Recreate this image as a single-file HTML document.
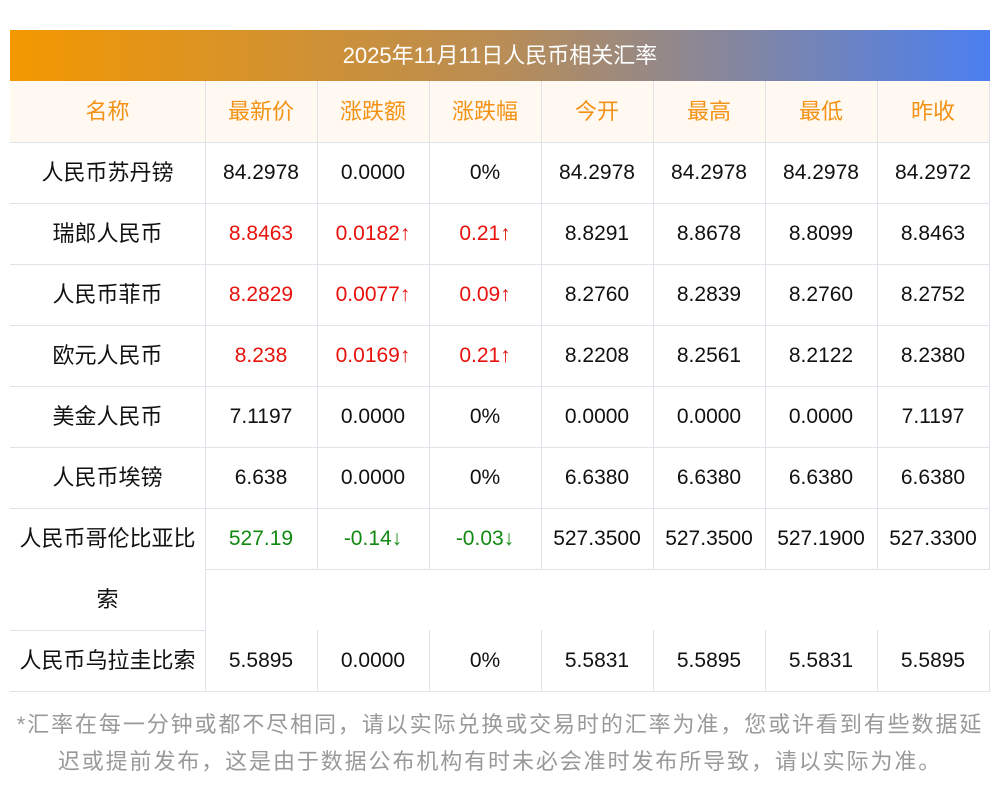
<!DOCTYPE html><html><head><meta charset="utf-8"><style>
body{margin:0;width:1000px;height:793px;background:#fff;position:relative;font-family:"Liberation Sans","Noto Sans CJK SC",sans-serif;overflow:hidden}
.a{position:absolute}
.t{position:absolute;text-align:center;font-size:21px;line-height:61px;color:#111;white-space:nowrap}
.n{font-size:22px}
.h{color:#f39214;font-size:22px}.r{color:#e8120c}.g{color:#118a11}
.v{position:absolute;width:1px;background:#e1e3ea}
.l{position:absolute;height:1px;background:#e1e3ea}
</style></head><body>
<div class="a" style="left:10px;top:30px;width:980px;height:51px;background:linear-gradient(90deg,#f39800,#b98d55 50%,#4b7ff0);color:#fff;font-size:22px;line-height:51px;text-align:center">2025年11月11日人民币相关汇率</div>
<div class="a" style="left:10px;top:81px;width:980px;height:61px;background:#fff9f2"></div>
<div id="g"></div>
<div class="a" style="left:0px;top:706px;width:1000px;text-align:center;font-size:22px;line-height:37px;color:#999;white-space:nowrap;letter-spacing:1.9px">*汇率在每一分钟或都不尽相同，请以实际兑换或交易时的汇率为准，您或许看到有些数据延<br>迟或提前发布，这是由于数据公布机构有时未必会准时发布所导致，请以实际为准。</div>
<script>
var X=[10,205,317,429,541,653,765,877,989];
var rows=[
["h","名称","最新价","涨跌额","涨跌幅","今开","最高","最低","昨收"],
["","人民币苏丹镑","84.2978","0.0000","0%","84.2978","84.2978","84.2978","84.2972"],
["r","瑞郎人民币","8.8463","0.0182↑","0.21↑","8.8291","8.8678","8.8099","8.8463"],
["r","人民币菲币","8.2829","0.0077↑","0.09↑","8.2760","8.2839","8.2760","8.2752"],
["r","欧元人民币","8.238","0.0169↑","0.21↑","8.2208","8.2561","8.2122","8.2380"],
["","美金人民币","7.1197","0.0000","0%","0.0000","0.0000","0.0000","7.1197"],
["","人民币埃镑","6.638","0.0000","0%","6.6380","6.6380","6.6380","6.6380"],
["g","人民币哥伦比亚比","527.19","-0.14↓","-0.03↓","527.3500","527.3500","527.1900","527.3300"],
["","人民币乌拉圭比索","5.5895","0.0000","0%","5.5831","5.5895","5.5831","5.5895"]];
var Y=[81,142,203,264,325,386,447,508,630];
var s="";
rows.forEach(function(r,i){for(var c=0;c<8;c++){var cl=(i==0||(c>0&&c<4))?r[0]:"";if(c==0&&i>0)cl+=" n";
s+='<div class="t '+cl+'" style="left:'+X[c]+'px;top:'+Y[i]+'px;width:'+(X[c+1]-X[c])+'px">'+r[c+1]+'</div>';}});
s+='<div class="t n" style="left:10px;top:569px;width:195px">索</div>';
[142,203,264,325,386,447,508,691].forEach(function(y){s+='<div class="l" style="left:10px;width:980px;top:'+y+'px"></div>'});
s+='<div class="l" style="left:205px;width:785px;top:569px"></div><div class="l" style="left:10px;width:195px;top:630px"></div>';
X.forEach(function(x,i){if(i==0)return;if(i==1){s+='<div class="v" style="left:205px;top:81px;height:610px"></div>';return;}
s+='<div class="v" style="left:'+x+'px;top:81px;height:488px"></div><div class="v" style="left:'+x+'px;top:630px;height:61px"></div>';});
document.getElementById("g").innerHTML=s;
</script>
</body></html>
